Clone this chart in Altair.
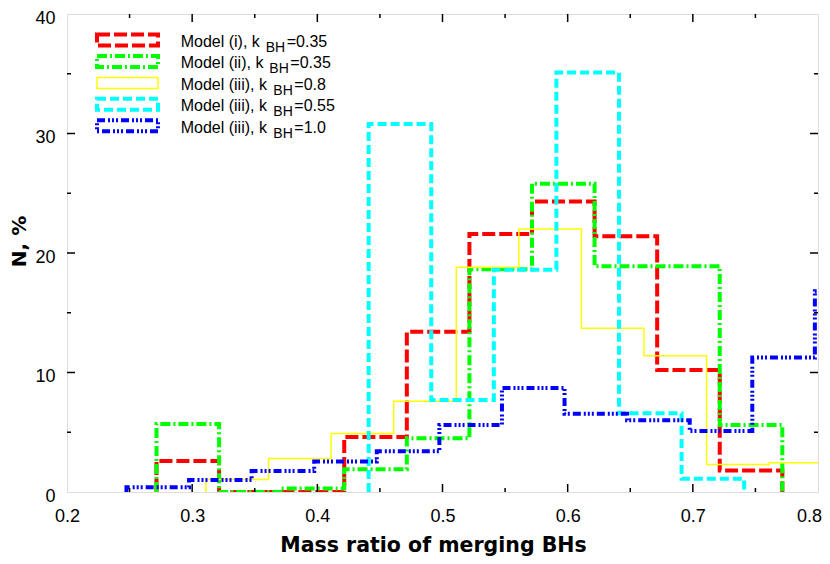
import altair as alt
import pandas as pd

# ---------------- data ----------------
BIN_W = 0.05

red_start = 0.2715
red_vals = [2.6, 0.0, 0.0, 4.6, 13.4, 21.6, 24.3, 21.4, 10.2, 1.8]

green_start = 0.2715
green_vals = [5.7, 0.0, 0.3, 1.9, 4.5, 18.65, 25.8, 18.9, 18.9, 5.6]

yellow_start = 0.311
yellow_vals = [1.05, 2.8, 4.9, 7.6, 18.8, 22.0, 13.7, 11.4, 2.3, 2.45]

cyan_start = 0.441
cyan_vals = [30.8, 7.7, 18.6, 35.1, 6.6, 1.1]

blue_start = 0.2475
blue_vals = [0.4, 1.0, 1.75, 2.55, 3.4, 5.6, 8.7, 6.55, 6.0, 5.1, 11.25, 16.8]

label_prefix = ["Model (i), k", "Model (ii), k", "Model (iii), k", "Model (iii), k", "Model (iii), k"]
label_sub = ["BH", "BH", "BH", "BH", "BH"]
label_suffix = ["=0.35", "=0.35", "=0.8", "=0.55", "=1.0"]

x_tick_labels = [0.2, 0.3, 0.4, 0.5, 0.6, 0.7, 0.8]
y_tick_labels = [0, 10, 20, 30, 40]
x_minor = [0.25, 0.35, 0.45, 0.55, 0.65, 0.75]
x_major_inner = [0.3, 0.4, 0.5, 0.6, 0.7]
y_minor = [5, 15, 25, 35]
y_major_inner = [10, 20, 30]

# ---------------- styles / layout ----------------
W, H = 751, 478
TOP = 14  # page y of the plot's top edge (8px page margin + padding)
series = [
    (red_start, red_vals, "#ff0000", [13, 4], 4),
    (green_start, green_vals, "#00ff00", [10, 3, 2, 3], 4),
    (yellow_start, yellow_vals, "#ffff00", None, 1.5),
    (cyan_start, cyan_vals, "#00ffff", [9, 4], 4),
    (blue_start, blue_vals, "#0000ff", [8, 3, 2, 2, 2, 2, 2, 3], 4),
]

XSCALE = alt.Scale(domain=[0.2, 0.8], nice=False, zero=False)
YSCALE = alt.Scale(domain=[0, 40], nice=False, zero=False)
XAXIS = alt.Axis(values=x_tick_labels, format=".1f", title="Mass ratio of merging BHs",
                 labelFont="Liberation Sans", labelFontSize=18, labelColor="black",
                 labelPadding=15, labelBaseline="top", labelFlush=False, labelOverlap=False,
                 labelOffset={"condition": {"test": "datum.value > 0.79", "value": -9}, "value": 0},
                 titleFont="DejaVu Sans", titleFontSize=20.5, titleFontWeight="bold",
                 titleColor="black", titleX=366, titleY=59, titleAlign="center",
                 titleBaseline="alphabetic", ticks=False, domain=False, grid=False)
YAXIS = alt.Axis(values=y_tick_labels, format="d", title="N, %",
                 labelFont="Liberation Sans", labelFontSize=18, labelColor="black",
                 labelPadding=12, labelOffset=4, labelFlush=False, labelOverlap=False,
                 titleFont="DejaVu Sans", titleFontSize=20, titleFontWeight="bold",
                 titleColor="black", titleAngle=270, titleX=-42, titleY=241 - TOP,
                 titleAlign="center", titleBaseline="alphabetic",
                 ticks=False, domain=False, grid=False)


def X(f):
    return alt.X(f, type="quantitative", scale=XSCALE, axis=XAXIS)


def Y(f):
    return alt.Y(f, type="quantitative", scale=YSCALE, axis=YAXIS)


# reference-pixel helpers for legend placement (layout only)
def px_x(px):
    return 0.2 + (px - 67) * 0.6 / W


def px_y(py):
    return 40 - (py - TOP) * 40 / H


layers = []

# histogram outlines
for start, vals, color, dash, sw in series:
    xs = [start] + [start + i * BIN_W for i in range(len(vals))] + [start + len(vals) * BIN_W]
    ys = [0.0] + list(vals) + [0.0]
    df = pd.DataFrame({"x": xs, "y": ys, "i": list(range(len(xs)))})
    kw = dict(color=color, strokeWidth=sw, interpolate="step-after", clip=True)
    if dash:
        kw["strokeDash"] = dash
    layers.append(alt.Chart(df).mark_line(**kw).encode(x=X("x"), y=Y("y"), order=alt.Order("i:Q")))

# legend
centers = [40.0, 61.45, 82.9, 104.35, 125.8]
sub_px = [265.7, 269.3, 273.3, 273.3, 273.3]
for k, (start, vals, color, dash, sw) in enumerate(series):
    c = centers[k]
    df = pd.DataFrame({"x": [px_x(97)], "x2": [px_x(158)],
                       "y": [px_y(c + 5.5)], "y2": [px_y(c - 5.5)]})
    kw = dict(stroke=color, strokeWidth=sw, fillOpacity=0)
    if dash:
        kw["strokeDash"] = dash
    layers.append(alt.Chart(df).mark_rect(**kw).encode(
        x=X("x"), x2="x2", y=Y("y"), y2="y2"))

pre_df = pd.DataFrame({"x": [px_x(180.7)] * 5, "y": [px_y(c + 6.7) for c in centers], "t": label_prefix})
sub_df = pd.DataFrame({"x": [px_x(p) for p in sub_px], "y": [px_y(c + 11.7) for c in centers], "t": label_sub})
suf_df = pd.DataFrame({"x": [px_x(p + 21) for p in sub_px], "y": [px_y(c + 6.7) for c in centers], "t": label_suffix})
for df, fs in [(pre_df, 16), (sub_df, 14), (suf_df, 16)]:
    layers.append(alt.Chart(df).mark_text(align="left", baseline="alphabetic", font="Liberation Sans",
                                          fontSize=fs, color="black").encode(
        x=X("x"), y=Y("y"), text="t:N"))


# inward ticks on all four sides
def xticks(vals, length):
    df = pd.DataFrame({"v": vals})
    bot = alt.Chart(df).mark_rule(color="black", strokeWidth=1.5).encode(
        x=X("v"), y=alt.value(H), y2=alt.value(H - length))
    top = alt.Chart(df).mark_rule(color="black", strokeWidth=1.5).encode(
        x=X("v"), y=alt.value(0), y2=alt.value(length))
    return [bot, top]


def yticks(vals, length):
    df = pd.DataFrame({"v": vals})
    left = alt.Chart(df).mark_rule(color="black", strokeWidth=1.5).encode(
        y=Y("v"), x=alt.value(0), x2=alt.value(length))
    right = alt.Chart(df).mark_rule(color="black", strokeWidth=1.5).encode(
        y=Y("v"), x=alt.value(W), x2=alt.value(W - length))
    return [left, right]


layers += xticks(x_major_inner, 8) + xticks(x_minor, 4)
layers += yticks(y_major_inner, 8) + yticks(y_minor, 4)

chart = alt.layer(*layers).properties(
    width=W, height=H,
    autosize=alt.AutoSizeParams(type="none"),
    padding={"left": 59, "top": TOP - 8, "right": 4, "bottom": 64},
).configure_view(stroke="black", strokeWidth=2).configure(background="white")

chart.save("out.html", embed_options={"renderer": "svg", "actions": False})
